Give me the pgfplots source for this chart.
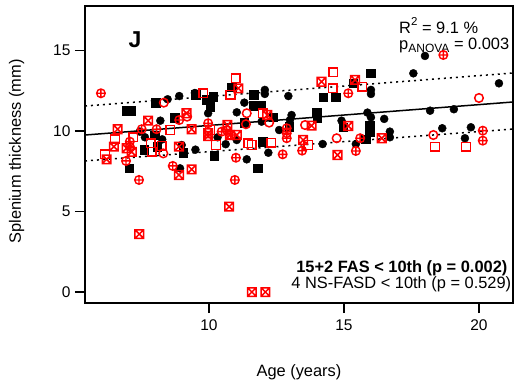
\documentclass[border=0pt]{standalone}
\usepackage{fontspec}
\setmainfont{Liberation Sans}
\usepackage{pgfplots}
\pgfplotsset{compat=1.18}
\definecolor{rred}{RGB}{255,0,0}
\pgfdeclareplotmark{sqx}{%
  \pgfpathrectangle{\pgfqpoint{-\pgfplotmarksize}{-\pgfplotmarksize}}{\pgfqpoint{2\pgfplotmarksize}{2\pgfplotmarksize}}%
  \pgfpathmoveto{\pgfqpoint{-\pgfplotmarksize}{-\pgfplotmarksize}}\pgfpathlineto{\pgfqpoint{\pgfplotmarksize}{\pgfplotmarksize}}%
  \pgfpathmoveto{\pgfqpoint{-\pgfplotmarksize}{\pgfplotmarksize}}\pgfpathlineto{\pgfqpoint{\pgfplotmarksize}{-\pgfplotmarksize}}%
  \pgfusepathqstroke}
\begin{document}
\begin{tikzpicture}
\begin{axis}[name=ax,
  scale only axis, width=428pt, height=297pt,
  xmin=5.41, xmax=21.26, ymin=-0.68, ymax=17.76,
  axis line style={line width=1.5pt},
  tick style={line width=1.5pt, black},
  major tick length=10pt,
  tick align=outside, xtick pos=bottom, ytick pos=left,
  xtick={10,15,20}, ytick={0,5,10,15},
  /pgf/number format/assume math mode=true,
  ticklabel style={font=\fontsize{15.5}{16}\selectfont},
  yticklabel style={xshift=-1pt},
  xticklabel style={yshift=-3pt},
  xlabel={Age (years)}, ylabel={Splenium thickness (mm)},
  label style={font=\fontsize{16.4}{18}\selectfont},
  xlabel style={at={(axis description cs:0.5,-0.2323)}, anchor=center},
  ylabel style={at={(axis description cs:-0.16,0.51)}, anchor=center},
  clip=false,
]
% regression lines
\addplot[black, line width=1.5pt] coordinates {(5.41,9.75) (21.26,11.80)};
\addplot[black, line width=1.5pt, dash pattern=on 2pt off 4pt] coordinates {(5.41,11.55) (21.26,13.60)};
\addplot[black, line width=1.5pt, dash pattern=on 2pt off 4pt] coordinates {(5.41,8.14) (21.26,10.12)};
% black filled circles
\addplot[only marks, mark=*, mark size=4pt, black] coordinates {
(8.47,11.97) (8.90,12.17) (9.48,12.36) (8.20,10.64) (7.44,9.96) (7.63,9.61)
(8.27,9.48) (8.99,9.13) (9.50,8.84) (8.93,7.68) (11.31,11.76) (12.07,12.55)
(12.07,12.30) (12.94,12.17) (9.97,11.10) (11.03,11.16) (13.06,10.99) (13.00,10.68)
(11.95,10.58) (11.03,9.44) (10.32,9.61) (10.62,9.18) (12.60,10.06) (11.40,8.24)
(12.20,8.65) (14.91,10.64) (15.87,11.14) (16.00,10.85) (16.49,10.75) (16.70,9.96)
(16.70,9.61) (14.21,9.19) (15.44,9.19) (16.00,12.55) (16.00,12.30) (18.00,14.66)
(17.57,13.58) (20.74,12.96) (18.19,11.26) (19.07,11.35) (18.64,10.17) (19.70,10.23)
(19.48,9.55)
};
% black filled squares
\addplot[only marks, mark=square*, mark size=4.3pt, black] coordinates {
(8.03,11.76) (6.93,11.26) (7.10,11.26) (8.74,10.83) (8.00,9.75) (8.09,9.03)
(7.60,8.82) (9.05,8.65) (7.05,7.68) (9.52,12.24) (9.91,11.93) (10.16,12.13)
(10.04,11.51) (10.84,12.73) (11.65,12.24) (11.64,11.58) (11.93,11.61) (11.31,10.50)
(12.38,10.85) (12.97,10.27) (11.99,9.34) (10.19,8.48) (11.81,7.68) (16.00,13.58)
(15.34,12.96) (14.23,12.09) (14.69,12.09) (13.99,11.14) (14.01,10.79) (14.97,10.23)
(15.96,10.31) (15.96,9.96) (15.81,9.50)
};
% red open circles
\addplot[only marks, mark=o, mark size=4.3pt, rred, line width=1.5pt] coordinates {
(8.33,11.76) (9.19,10.89) (8.31,8.61) (11.40,11.10) (12.23,10.52) (11.37,10.42)
(13.56,10.37) (14.73,9.55) (20.00,12.05) (18.31,9.75)
};
% red open squares
\addplot[only marks, mark=square, mark size=4.3pt, rred, line width=1.5pt] coordinates {
(11.00,13.27) (10.80,12.24) (9.79,12.34) (11.99,11.10) (8.56,10.06) (10.04,10.06)
(10.26,9.13) (11.46,9.24) (11.58,9.13) (12.30,9.27) (6.52,9.48) (6.15,8.55)
(7.19,9.61) (7.85,9.24) (7.88,8.71) (8.25,9.07) (14.60,13.65) (14.58,12.65)
(15.68,12.75) (13.68,9.13) (18.37,9.03) (19.52,9.03)
};
% red circle-plus
\addplot[only marks, mark=oplus, mark size=4.3pt, rred, line width=1.4pt] coordinates {
(6.00,12.34) (8.90,10.68) (7.51,10.11) (8.06,10.11) (7.07,9.34) (7.07,9.03)
(6.93,8.14) (8.66,7.83) (7.41,6.96) (9.97,10.48) (10.47,9.96) (10.66,10.06)
(10.81,9.75) (12.88,10.17) (12.88,9.86) (12.88,9.55) (11.00,8.34) (12.73,8.55)
(10.96,6.96) (15.16,12.34) (15.60,9.55) (13.45,8.78) (15.44,8.76) (18.68,14.72)
(20.14,10.02) (20.14,9.40)
};
% red boxed x
\addplot[only marks, mark=sqx, mark size=4.3pt, rred, line width=1.5pt] coordinates {
(7.75,10.64) (9.17,11.10) (6.62,10.11) (9.36,10.11) (6.48,9.03) (6.95,8.93)
(7.14,8.70) (6.21,8.24) (8.89,9.03) (8.89,7.27) (9.36,7.62) (7.42,3.60)
(10.75,5.30) (11.59,0.00) (12.09,0.00) (11.09,12.65) (12.16,10.99) (10.68,10.37)
(9.97,9.86) (9.97,9.69) (10.78,9.75) (11.03,9.75) (14.17,13.06) (15.41,13.17)
(13.80,10.33) (15.16,10.31) (16.40,9.55) (13.49,9.44) (14.76,8.51)
};
% annotations
\node[anchor=base, font=\bfseries\fontsize{23}{24}\selectfont] at (axis cs:7.26,15.2) {J};
\node[anchor=base west, inner sep=0pt, font=\fontsize{16.4}{18}\selectfont] at (axis cs:17.04,16.07) {R\raisebox{0.45em}{\fontsize{11.5}{12}\selectfont 2} = 9.1 \%};
\node[anchor=base west, inner sep=0pt, font=\fontsize{16.4}{18}\selectfont] at (axis cs:17.04,15.03) {p\raisebox{-0.18em}{\fontsize{12}{12}\selectfont ANOVA} = 0.003};
\node[anchor=base east, inner sep=0pt, font=\bfseries\fontsize{16.4}{18}\selectfont] at (axis cs:21.06,1.22) {15+2 FAS < 10th (p = 0.002)};
\node[anchor=base east, inner sep=0pt, font=\fontsize{16.4}{18}\selectfont] at (axis cs:21.20,0.22) {4 NS-FASD < 10th (p = 0.529)};
\end{axis}
\path ([shift={(-85pt,-86pt)}]ax.south west) rectangle ([shift={(2pt,6pt)}]ax.north east);
\end{tikzpicture}
\end{document}
